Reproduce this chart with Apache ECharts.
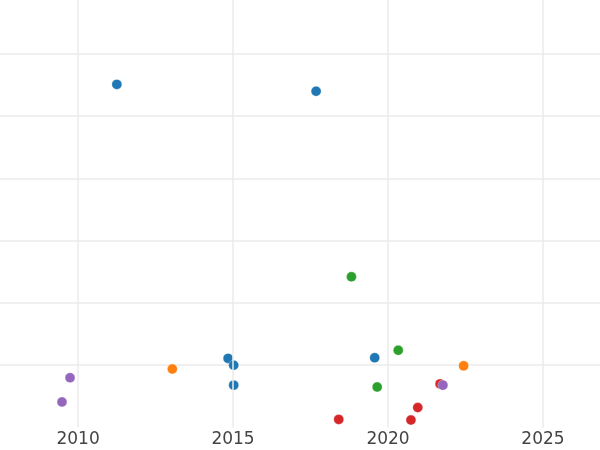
<!DOCTYPE html>
<html>
<head>
<meta charset="utf-8">
<script src="https://cdn.jsdelivr.net/npm/echarts@6/dist/echarts.min.js"></script>
<style>html,body{margin:0;padding:0;background:#fff}#c{width:600px;height:450px}</style>
</head>
<body>
<div id="c"></div>
<script>
var colors = ['#1f77b4', '#ff7f0e', '#2ca02c', '#d62728', '#9467bd'];
var xTicks = [2010, 2015, 2020, 2025];

var blueX = [2011.25, 2017.68, 2014.84, 2015.02, 2015.02, 2019.57];
var blueY = [5.51, 5.40, 1.11, 1.00, 0.68, 1.12];
var orangeX = [2013.04, 2022.44];
var orangeY = [0.94, 0.99];
var greenX = [2018.82, 2020.33, 2019.65];
var greenY = [2.42, 1.24, 0.65];
var redX = [2018.41, 2020.74, 2020.96, 2021.68];
var redY = [0.13, 0.12, 0.32, 0.70];
var purpleX = [2021.77, 2009.74, 2009.48];
var purpleY = [0.68, 0.80, 0.41];

function pairs(xs, ys) { return xs.map(function (x, i) { return [x, ys[i]]; }); }
var groups = [pairs(blueX, blueY), pairs(orangeX, orangeY), pairs(greenX, greenY), pairs(redX, redY), pairs(purpleX, purpleY)];

var series = [{
  type: 'scatter',
  data: [],
  z: 1,
  silent: true,
  markLine: {
    silent: true,
    symbol: ['none', 'none'],
    label: {show: false},
    lineStyle: {color: '#ebebeb', width: 1.5, type: 'solid'},
    emphasis: {disabled: true},
    data: xTicks.map(function (v) { return {xAxis: v}; })
  }
}].concat(groups.map(function (g, i) {
  return {
    type: 'scatter',
    data: g,
    z: 3,
    symbolSize: 10,
    itemStyle: {color: colors[i], opacity: 1, borderColor: 'rgba(255,255,255,0.6)', borderWidth: 0.5}
  };
}));

var chart = echarts.init(document.getElementById('c'), null, {renderer: 'canvas'});
chart.setOption({
  animation: false,
  backgroundColor: '#ffffff',
  grid: {left: 0, right: 0, top: 0, bottom: 22.5, containLabel: false},
  xAxis: {
    type: 'value',
    min: 2007.48, max: 2026.84,
    axisLine: {show: false},
    axisTick: {show: false, customValues: xTicks},
    axisLabel: {
      fontFamily: 'DejaVu Sans', fontSize: 17, color: '#444', margin: 4,
      customValues: xTicks,
      formatter: function (v) { return String(Math.round(v)); }
    },
    splitLine: {show: false}
  },
  yAxis: {
    type: 'value',
    min: 0, max: 6.865, interval: 1,
    axisLine: {show: false},
    axisTick: {show: false},
    axisLabel: {show: false},
    splitLine: {show: true, lineStyle: {color: '#ebebeb', width: 1.5}, showMinLine: false, showMaxLine: false}
  },
  series: series
});
</script>
</body>
</html>
